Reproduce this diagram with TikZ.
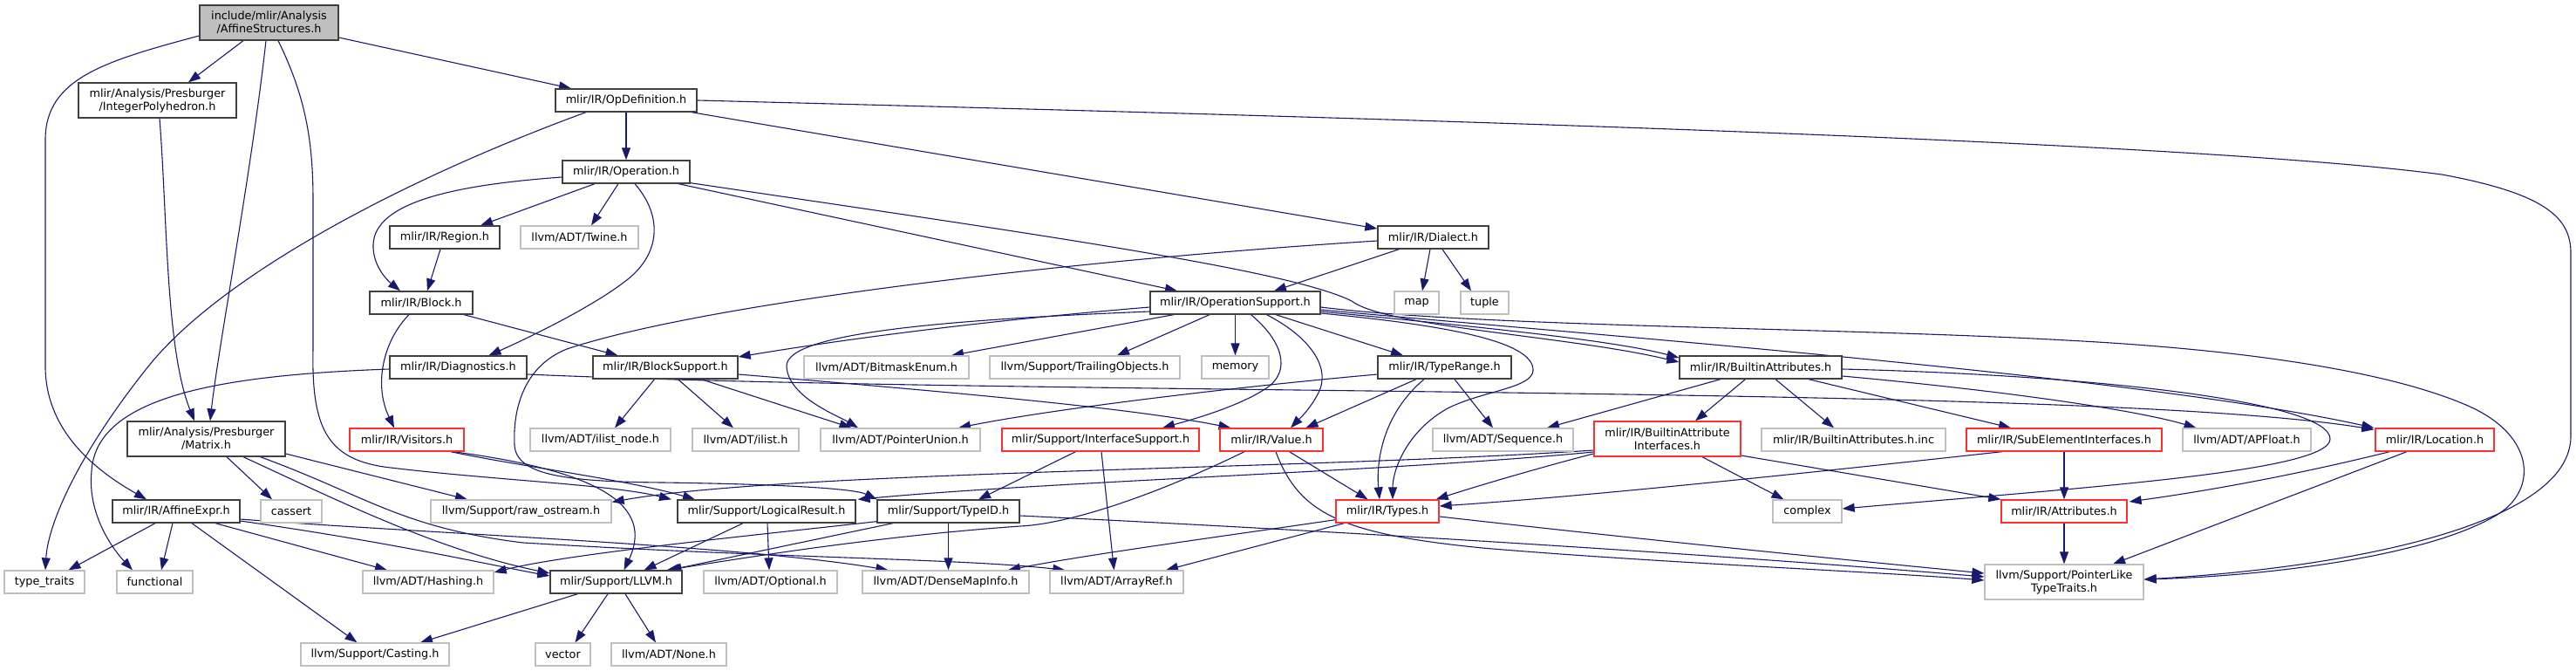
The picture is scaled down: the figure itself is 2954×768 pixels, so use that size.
\documentclass[tikz,border=0pt]{standalone}
\usepackage{fontspec}
\setmainfont{DejaVu Sans}
\usetikzlibrary{arrows.meta,calc}
\definecolor{edgecol}{HTML}{191970}
\definecolor{graybd}{HTML}{BFBFBF}
\definecolor{darkbd}{HTML}{404040}
\definecolor{redbd}{HTML}{FF3030}
\pgfdeclarelayer{bg}
\pgfsetlayers{bg,main}
\begin{document}
\begin{tikzpicture}[x=1pt,y=-1pt,
  nb/.style={rectangle, inner sep=0pt, line width=1.3pt, fill=white, align=center,
    font=\fontsize{12.8}{15}\selectfont, minimum height=26pt},
  doc/.style={nb, draw=darkbd},
  ext/.style={nb, draw=graybd},
  trc/.style={nb, draw=redbd},
  root/.style={nb, draw=darkbd, fill=graybd},
  two/.style={minimum height=40pt},
  dep/.style={draw=edgecol, line width=1.1pt, -{Triangle[length=14pt,width=10pt]}}]
\useasboundingbox (0,0) rectangle (2954,768);
% nodes
\node[root,two,minimum width=159pt] (main) at (308.5,26) {include/mlir/Analysis\\/AffineStructures.h};
\node[doc,two,minimum width=181pt] (ipoly) at (180.5,115) {mlir/Analysis/Presburger\\/IntegerPolyhedron.h};
\node[doc,minimum width=162pt] (opdef) at (718,115) {mlir/IR/OpDefinition.h};
\node[doc,minimum width=146pt] (operation) at (718,197) {mlir/IR/Operation.h};
\node[doc,minimum width=126pt] (region) at (510,272) {mlir/IR/Region.h};
\node[ext,minimum width=135pt] (twine) at (664.5,272) {llvm/ADT/Twine.h};
\node[doc,minimum width=127pt] (dialect) at (1643.5,272) {mlir/IR/Dialect.h};
\node[doc,minimum width=118pt] (block) at (483,347) {mlir/IR/Block.h};
\node[doc,minimum width=195pt] (opsupport) at (1416.5,347) {mlir/IR/OperationSupport.h};
\node[ext,minimum width=51pt] (map) at (1624.5,347) {map};
\node[ext,minimum width=55pt] (tuple) at (1702.5,347) {tuple};
\node[doc,minimum width=157pt] (diagnostics) at (525.5,421) {mlir/IR/Diagnostics.h};
\node[doc,minimum width=166pt] (blocksupport) at (763,421) {mlir/IR/BlockSupport.h};
\node[ext,minimum width=189pt] (bitmask) at (1016.5,421) {llvm/ADT/BitmaskEnum.h};
\node[ext,minimum width=218pt] (trailing) at (1244,421) {llvm/Support/TrailingObjects.h};
\node[ext,minimum width=77pt] (memory) at (1416.5,421) {memory};
\node[doc,minimum width=153pt] (typerange) at (1656.5,421) {mlir/IR/TypeRange.h};
\node[doc,minimum width=186pt] (builtinattr) at (2019,421) {mlir/IR/BuiltinAttributes.h};
\node[doc,two,minimum width=181pt] (matrix) at (236.5,503) {mlir/Analysis/Presburger\\/Matrix.h};
\node[trc,minimum width=131pt] (visitors) at (466.5,504) {mlir/IR/Visitors.h};
\node[ext,minimum width=161pt] (ilistnode) at (688.5,504) {llvm/ADT/ilist\_node.h};
\node[ext,minimum width=122pt] (ilist) at (855,504) {llvm/ADT/ilist.h};
\node[ext,minimum width=183pt] (ptrunion) at (1032.5,504) {llvm/ADT/PointerUnion.h};
\node[trc,minimum width=226pt] (ifacesupport) at (1262,504) {mlir/Support/InterfaceSupport.h};
\node[trc,minimum width=118pt] (value) at (1458,504) {mlir/IR/Value.h};
\node[ext,minimum width=161pt] (sequence) at (1723.5,504) {llvm/ADT/Sequence.h};
\node[trc,two,minimum width=168pt] (bai) at (1912,503) {mlir/IR/BuiltinAttribute\\Interfaces.h};
\node[ext,minimum width=211pt] (inc) at (2125.5,504) {mlir/IR/BuiltinAttributes.h.inc};
\node[trc,minimum width=224pt] (subelem) at (2367,504) {mlir/IR/SubElementInterfaces.h};
\node[ext,minimum width=147pt] (apfloat) at (2576.5,504) {llvm/ADT/APFloat.h};
\node[trc,minimum width=136pt] (location) at (2792,504) {mlir/IR/Location.h};
\node[doc,minimum width=146pt] (affineexpr) at (202,586) {mlir/IR/AffineExpr.h};
\node[ext,minimum width=70pt] (cassert) at (334,586) {cassert};
\node[ext,minimum width=207pt] (rawostream) at (597.5,586) {llvm/Support/raw\_ostream.h};
\node[doc,minimum width=204pt] (logical) at (879,586) {mlir/Support/LogicalResult.h};
\node[doc,minimum width=163pt] (typeid) at (1087.5,586) {mlir/Support/TypeID.h};
\node[trc,minimum width=118pt] (types) at (1591,586) {mlir/IR/Types.h};
\node[ext,minimum width=79pt] (complex) at (2072.5,586) {complex};
\node[trc,minimum width=144pt] (attributes) at (2367,586) {mlir/IR/Attributes.h};
\node[ext,minimum width=92pt] (typetraits) at (51,667) {type\_traits};
\node[ext,minimum width=87pt] (functional) at (177.5,667) {functional};
\node[ext,minimum width=150pt] (hashing) at (491,667) {llvm/ADT/Hashing.h};
\node[doc,minimum width=151pt] (llvm) at (706.5,667) {mlir/Support/LLVM.h};
\node[ext,minimum width=153pt] (optional) at (883.5,667) {llvm/ADT/Optional.h};
\node[ext,minimum width=191pt] (densemap) at (1084.5,667) {llvm/ADT/DenseMapInfo.h};
\node[ext,minimum width=153pt] (arrayref) at (1280.5,667) {llvm/ADT/ArrayRef.h};
\node[ext,two,minimum width=182pt] (pointerlike) at (2367,667) {llvm/Support/PointerLike\\TypeTraits.h};
\node[ext,minimum width=170pt] (casting) at (430,750) {llvm/Support/Casting.h};
\node[ext,minimum width=63pt] (vector) at (645.5,750) {vector};
\node[ext,minimum width=132pt] (none) at (767,750) {llvm/ADT/None.h};
% edges
\begin{pgfonlayer}{bg}
\fill[white] (0,0) rectangle (2954,768);
\draw[dep] ($(main.south)+(-29.5,0)$) -- ($(ipoly.north)+(35.5,0)$);
\draw[dep] ($(main.east)+(0,17)$) -- ($(opdef.north)+(-63,0)$);
\draw[dep] ($(main.west)+(0,15)$) .. controls (120,70) and (52,90) .. (52,160) -- (52,420) .. controls (52,500) and (120,545) .. ($(affineexpr.north)+(-34,0)$);
\draw[dep] ($(main.south)+(-3.5,0)$) .. controls (288,200) and (250,400) .. ($(matrix.north)+(4.5,0)$);
\draw[dep] ($(main.south)+(10.5,0)$) .. controls (350,110) and (359,160) .. (359,230) -- (359,400) .. controls (357,490) and (375,525) .. (440,535) .. controls (560,550) and (700,555) .. ($(logical.north)+(-109,0)$);
\draw[dep] ($(ipoly.south)+(2.5,0)$) .. controls (192,250) and (190,400) .. ($(matrix.north)+(-13.5,0)$);
\draw[dep] ($(opdef.south)+(-46,0)$) .. controls (450,210) and (250,320) .. (170,420) .. controls (90,520) and (55,600) .. ($(typetraits.north)+(1,0)$);
\draw[dep] (opdef.south) -- (operation.north);
\draw[dep] ($(opdef.south)+(75,0)$) -- ($(dialect.west)+(0,-10)$);
\draw[dep] (opdef.east) .. controls (1500,133) and (2500,160) .. (2800,200) .. controls (2920,222) and (2948,250) .. (2948,290) -- (2948,500) .. controls (2948,600) and (2700,650) .. ($(pointerlike.east)+(0,-3)$);
\draw[dep] ($(operation.west)+(0,6)$) .. controls (520,212) and (430,232) .. (428,280) .. controls (427,305) and (445,322) .. ($(block.north)+(-24,0)$);
\draw[dep] ($(operation.south)+(-36,0)$) -- ($(region.north)+(41,0)$);
\draw[dep] ($(operation.south)+(-9,0)$) -- ($(twine.north)+(13.5,0)$);
\draw[dep] ($(operation.south)+(10,0)$) .. controls (762,250) and (755,292) .. (720,320) .. controls (680,352) and (600,390) .. ($(diagnostics.north)+(35,0)$);
\draw[dep] ($(operation.south)+(60,0)$) -- ($(opsupport.north)+(-66.5,0)$);
\draw[dep] ($(operation.south east)+(0,-1)$) .. controls (1200,270) and (1480,310) .. (1550,345) .. controls (1590,375) and (1800,385) .. ($(builtinattr.west)+(0,-6)$);
\draw[dep] ($(opsupport.east)+(0,10)$) .. controls (1700,375) and (1850,390) .. ($(builtinattr.west)+(0,-11)$);
\draw[dep] ($(opsupport.east)+(0,8)$) .. controls (1800,382) and (2450,430) .. ($(location.north west)+(-1,0)$);
\draw[dep] ($(opsupport.east)+(0,5)$) .. controls (1700,375) and (2100,375) .. (2370,390) .. controls (2600,402) and (2750,430) .. (2830,465) .. controls (2910,500) and (2910,565) .. (2860,592) .. controls (2780,638) and (2600,660) .. ($(pointerlike.east)+(0,-3)$);
\draw[dep] ($(opsupport.west)+(0,5)$) .. controls (1100,370) and (950,392) .. ($(blocksupport.east)+(0,-12)$);
\draw[dep] ($(opsupport.west)+(0,10)$) .. controls (1100,366) and (900,380) .. (902,420) .. controls (904,455) and (960,476) .. ($(ptrunion.north)+(-48.5,0)$);
\draw[dep] ($(opsupport.south)+(-70.5,0)$) -- ($(bitmask.north)+(74.5,0)$);
\draw[dep] ($(opsupport.south)+(-29.5,0)$) -- ($(trailing.north)+(37,0)$);
\draw[dep] (opsupport.south) -- (memory.north);
\draw[dep] ($(opsupport.south)+(18,0)$) .. controls (1470,390) and (1482,425) .. (1452,445) .. controls (1420,466) and (1370,480) .. ($(ifacesupport.north)+(71,0)$);
\draw[dep] ($(opsupport.south)+(36,0)$) .. controls (1500,385) and (1527,420) .. (1512,450) .. controls (1502,470) and (1488,482) .. ($(value.north)+(22,0)$);
\draw[dep] ($(opsupport.south)+(46.5,0)$) -- ($(typerange.north)+(-47.5,0)$);
\draw[dep] ($(opsupport.east)+(0,12)$) .. controls (1650,372) and (1760,390) .. (1758,425) .. controls (1756,445) and (1700,448) .. (1660,468) .. controls (1612,495) and (1597,540) .. ($(types.north)+(6,0)$);
\draw[dep] ($(region.south)+(-5,0)$) -- ($(block.north)+(7,0)$);
\draw[dep] ($(block.south)+(49,0)$) -- ($(blocksupport.north)+(-54.5,0)$);
\draw[dep] ($(block.south)+(-14,0)$) .. controls (440,390) and (428,440) .. ($(visitors.north)+(-14.5,0)$);
\draw[dep] ($(dialect.south)+(-39,0)$) -- ($(opsupport.north)+(44.5,0)$);
\draw[dep] ($(dialect.south)+(-3.5,0)$) -- ($(map.north)+(6.5,0)$);
\draw[dep] ($(dialect.south)+(10.5,0)$) -- ($(tuple.north)+(-15.5,0)$);
\draw[dep] ($(dialect.west)+(0,4)$) .. controls (1200,300) and (800,350) .. (650,400) .. controls (600,420) and (588,470) .. (590,510) .. controls (592,545) and (650,552) .. (760,553) .. controls (900,555) and (980,560) .. (typeid.north west);
\draw[dep] ($(diagnostics.west)+(0,2)$) .. controls (250,430) and (110,455) .. (105,540) .. controls (100,590) and (130,630) .. ($(functional.north)+(-25.5,0)$);
\draw[dep] ($(diagnostics.east)+(0,8)$) .. controls (1200,455) and (2400,440) .. ($(location.north west)+(-1,2)$);
\draw[dep] ($(blocksupport.south)+(-12.5,0)$) -- ($(ilistnode.north)+(16.5,0)$);
\draw[dep] ($(blocksupport.south)+(14.5,0)$) -- ($(ilist.north)+(-14,0)$);
\draw[dep] ($(blocksupport.south)+(41,0)$) -- ($(ptrunion.north)+(-56,0)$);
\draw[dep] ($(blocksupport.east)+(0,8)$) .. controls (1100,450) and (1300,468) .. ($(value.north)+(-46.5,0)$);
\draw[dep] ($(typerange.south)+(-32.5,0)$) -- ($(value.north)+(39.5,0)$);
\draw[dep] ($(typerange.south)+(-23.5,0)$) .. controls (1585,475) and (1578,530) .. ($(types.north)+(-9,0)$);
\draw[dep] ($(typerange.south)+(11.5,0)$) -- ($(sequence.north)+(-11.5,0)$);
\draw[dep] ($(typerange.west)+(0,8)$) .. controls (1400,445) and (1200,470) .. ($(ptrunion.north)+(66.5,0)$);
\draw[dep] ($(builtinattr.south)+(-46,0)$) -- ($(sequence.north)+(50.5,0)$);
\draw[dep] ($(builtinattr.south)+(-17.5,0)$) -- ($(bai.north)+(32,0)$);
\draw[dep] ($(builtinattr.south)+(17,0)$) -- ($(inc.north)+(-22.5,0)$);
\draw[dep] ($(builtinattr.south)+(55,0)$) -- ($(subelem.north)+(-61,0)$);
\draw[dep] ($(builtinattr.east)+(0,10)$) .. controls (2300,448) and (2450,470) .. ($(apfloat.north)+(-58,0)$);
\draw[dep] ($(builtinattr.east)+(0,2)$) .. controls (2400,430) and (2672,460) .. (2672,503) .. controls (2672,540) and (2400,558) .. ($(complex.east)+(0,-3)$);
\draw[dep] ($(bai.south)+(40,0)$) -- ($(complex.north)+(-27,0)$);
\draw[dep] ($(bai.east)+(0,19)$) -- (attributes.north west);
\draw[dep] ($(bai.west)+(0,17)$) .. controls (1780,532) and (1700,555) .. ($(types.north east)+(-4,0)$);
\draw[dep] ($(bai.west)+(0,15)$) .. controls (1600,540) and (1200,552) .. ($(logical.north east)+(2,0)$);
\draw[dep] ($(bai.west)+(0,13)$) .. controls (1500,538) and (900,540) .. ($(rawostream.north east)+(0,3)$);
\draw[dep] (subelem.south) -- (attributes.north);
\draw[dep] ($(subelem.south)+(-71,0)$) .. controls (2000,550) and (1800,570) .. ($(types.east)+(0,-6)$);
\draw[dep] (attributes.south) -- (pointerlike.north);
\draw[dep] ($(location.south)+(-51.5,0)$) .. controls (2650,540) and (2550,560) .. ($(attributes.east)+(2,-11)$);
\draw[dep] ($(location.south)+(-32,0)$) -- ($(pointerlike.north)+(56,0)$);
\draw[dep] ($(matrix.south)+(23.5,0)$) -- ($(cassert.north)+(-22,0)$);
\draw[dep] ($(matrix.east)+(0,17)$) -- ($(rawostream.north)+(-61.5,0)$);
\draw[dep] ($(matrix.south)+(42.5,0)$) .. controls (380,570) and (500,630) .. ($(llvm.west)+(0,-10)$);
\draw[dep] ($(matrix.south)+(62,0)$) .. controls (420,568) and (460,605) .. (600,622) .. controls (900,640) and (1100,640) .. ($(arrayref.north west)+(18,0)$);
\draw[dep] ($(affineexpr.south)+(-24,0)$) -- ($(typetraits.north)+(27.5,0)$);
\draw[dep] ($(affineexpr.south)+(-4,0)$) -- ($(functional.north)+(7.5,0)$);
\draw[dep] ($(affineexpr.south)+(18,0)$) -- ($(casting.north)+(-20.5,0)$);
\draw[dep] ($(affineexpr.south)+(45,0)$) -- ($(hashing.north)+(-47,0)$);
\draw[dep] ($(affineexpr.east)+(0,9)$) .. controls (500,612) and (850,625) .. ($(densemap.north)+(-66,0)$);
\draw[dep] ($(affineexpr.east)+(0,11)$) .. controls (450,622) and (550,645) .. ($(llvm.west)+(0,-7)$);
\draw[dep] ($(visitors.south)+(50,0)$) .. controls (600,535) and (720,550) .. ($(logical.north)+(-82,0)$);
\draw[dep] ($(visitors.south)+(53,0)$) .. controls (690,540) and (750,580) .. ($(llvm.north)+(9,0)$);
\draw[dep] ($(logical.south)+(-27,0)$) -- ($(llvm.north)+(32,0)$);
\draw[dep] ($(logical.south)+(1,0)$) -- ($(optional.north)+(-1.5,0)$);
\draw[dep] ($(typeid.south)+(-63.5,0)$) -- ($(llvm.north)+(61,0)$);
\draw[dep] ($(typeid.south west)+(0,-2)$) .. controls (850,615) and (650,635) .. ($(hashing.east)+(0,-11)$);
\draw[dep] (typeid.south) -- ($(densemap.north)+(3,0)$);
\draw[dep] ($(typeid.east)+(0,5)$) .. controls (1600,612) and (2000,638) .. ($(pointerlike.west)+(0,-6)$);
\draw[dep] ($(ifacesupport.south)+(-28.5,0)$) -- ($(typeid.north)+(34.5,0)$);
\draw[dep] ($(ifacesupport.south)+(1,0)$) -- ($(arrayref.north)+(-3,0)$);
\draw[dep] ($(value.south)+(20.5,0)$) -- ($(types.north)+(-22.5,0)$);
\draw[dep] ($(value.south)+(-31,0)$) .. controls (1330,565) and (1230,600) .. (1170,603) .. controls (1000,615) and (850,640) .. ($(llvm.north)+(58,0)$);
\draw[dep] ($(value.south)+(5,0)$) .. controls (1490,590) and (1540,612) .. (1700,628) .. controls (1900,645) and (2150,655) .. ($(pointerlike.west)+(0,-2)$);
\draw[dep] ($(types.south)+(-49.5,0)$) -- ($(arrayref.north)+(56.5,0)$);
\draw[dep] ($(types.south west)+(0,-4)$) .. controls (1400,615) and (1250,635) .. ($(densemap.north)+(71.5,0)$);
\draw[dep] ($(types.east)+(0,6)$) .. controls (1900,620) and (2100,640) .. ($(pointerlike.west)+(0,-10)$);
\draw[dep] ($(llvm.south)+(-44,0)$) -- ($(casting.north)+(52,0)$);
\draw[dep] ($(llvm.south)+(-9.5,0)$) -- ($(vector.north)+(14,0)$);
\draw[dep] ($(llvm.south)+(10.5,0)$) -- ($(none.north)+(-15,0)$);
\end{pgfonlayer}
\end{tikzpicture}
\end{document}
